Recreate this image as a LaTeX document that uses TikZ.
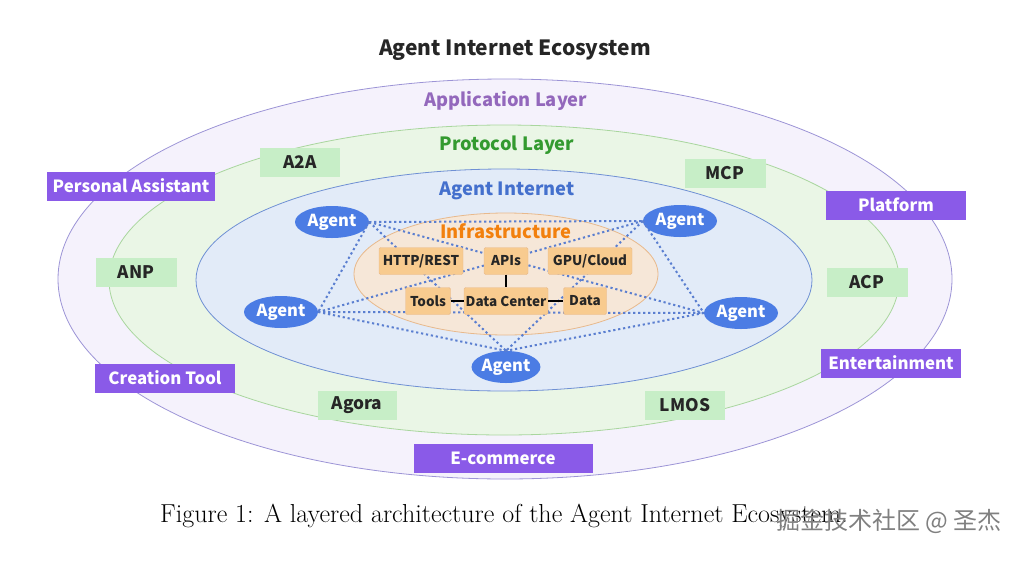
\documentclass[tikz,border=0pt]{standalone}
\usepackage{fontspec}
\newfontfamily\diagfont{Noto Sans CJK SC}
\usetikzlibrary{shapes.geometric, positioning}
\definecolor{appfill}{HTML}{F5F2FC}
\definecolor{appedge}{HTML}{9C94D6}
\definecolor{protofill}{HTML}{EAF6E6}
\definecolor{protoedge}{HTML}{A9D69E}
\definecolor{netfill}{HTML}{E2EBF8}
\definecolor{netedge}{HTML}{6F90D4}
\definecolor{infrafill}{HTML}{F6E7D8}
\definecolor{infraedge}{HTML}{E8B98C}
\definecolor{infrabox}{HTML}{F8CB8F}
\definecolor{agentblue}{HTML}{4B7CE4}
\definecolor{meshblue}{HTML}{5A7ED0}
\definecolor{protobox}{HTML}{C7EEC7}
\definecolor{appbox}{HTML}{8A5AE8}
\tikzset{
    every node/.style={font=\diagfont\bfseries},
    layerlabel/.style={font=\diagfont\bfseries\fontsize{18.3}{19}\selectfont},
    agent/.style={
        ellipse,
        fill=agentblue,
        text=white,
        minimum width=74pt,
        minimum height=32pt,
        inner sep=0pt,
        font=\diagfont\bfseries\fontsize{16.5}{17}\selectfont
    },
    infra/.style={
        rectangle,
        rounded corners=1.5pt,
        draw=infraedge,
        fill=infrabox,
        minimum height=27pt,
        inner sep=0pt,
        text=black!85,
        font=\diagfont\bfseries\fontsize{13.5}{14}\selectfont
    },
    proto/.style={
        rectangle,
        fill=protobox,
        minimum width=81pt,
        minimum height=29pt,
        inner sep=0pt,
        text=black!85,
        font=\diagfont\bfseries\fontsize{17.3}{18}\selectfont
    },
    app/.style={
        rectangle,
        fill=appbox,
        text=white,
        minimum height=29pt,
        inner sep=0pt,
        font=\diagfont\bfseries\fontsize{16.8}{17}\selectfont
    },
    mesh/.style={draw=meshblue, line width=2pt, dash pattern=on 2.2pt off 2.8pt},
    link/.style={draw=black, line width=2pt}
}

\begin{document}
\begin{tikzpicture}[x=1pt,y=-1pt]
	\useasboundingbox (0,0) rectangle (1024,560);
	% layers
	\draw[draw=appedge, fill=appfill, line width=0.8pt] (505,279) ellipse [x radius=447, y radius=200];
	\draw[draw=protoedge, fill=protofill, line width=0.8pt] (504,280) ellipse [x radius=395, y radius=155];
	\draw[draw=netedge, fill=netfill, line width=0.8pt] (504,280) ellipse [x radius=308, y radius=111];
	\draw[draw=infraedge, fill=infrafill, line width=0.8pt] (506,274) ellipse [x radius=152, y radius=61];

	\node[font=\diagfont\bfseries\fontsize{21}{21}\selectfont, text=black!85] at (515,50) (title) {Agent Internet Ecosystem};
	\node[layerlabel, text=appedge!70!violet] at (506,101) (applabel) {Application Layer};
	\node[layerlabel, text=green!50!black!70!protoedge] at (507,145) (protolabel) {Protocol Layer};
	\node[layerlabel, text=agentblue!90!black] at (507,191) (netlabel) {Agent Internet};
	\node[layerlabel, text=orange!80!brown] at (506,231) (infralabel) {Infrastructure};

	% agents
	\node[agent] at (332,222) (a1) {Agent};
	\node[agent] at (680,221) (a2) {Agent};
	\node[agent] at (281,312) (a3) {Agent};
	\node[agent] at (741,313) (a4) {Agent};
	\node[agent, minimum width=68pt] at (506,367) (a5) {Agent};
	\draw[mesh]
	(a1.east) -- (a2.west)
	(a1.east) -- (a3.east)
	(a1.east) -- (a4.west)
	(a1.east) -- (a5.north)
	(a2.west) -- (a3.east)
	(a2.west) -- (a4.west)
	(a2.west) -- (a5.north)
	(a3.east) -- (a4.west)
	(a3.east) -- (a5.north)
	(a4.west) -- (a5.north);

	% infrastructure
	\node[infra, minimum width=84pt] at (421,261) (http) {HTTP/REST};
	\node[infra, minimum width=44pt] at (506,261) (apis) {APIs};
	\node[infra, minimum width=84pt] at (590,261) (gpu) {GPU/Cloud};
	\node[infra, minimum width=45pt] at (428,301) (tools) {Tools};
	\node[infra, minimum width=84pt] at (506,301) (dc) {Data Center};
	\node[infra, minimum width=43pt] at (585,301) (data) {Data};
	\draw[link] (apis) -- (dc) (tools) -- (dc) (dc) -- (data);

	% protocols
	\node[proto, minimum width=80pt] at (300,162) (a2a) {A2A};
	\node[proto] at (725,173) (mcp) {MCP};
	\node[proto] at (136,272) (anp) {ANP};
	\node[proto] at (867,282) (acp) {ACP};
	\node[proto, minimum width=79pt] at (357,405) (agora) {Agora};
	\node[proto, minimum width=80pt] at (685,405) (lmos) {LMOS};

	% applications
	\node[app, minimum width=168pt] at (131,186) (assistant) {Personal Assistant};
	\node[app, minimum width=140pt] at (896,205) (platform) {Platform};
	\node[app, minimum width=140pt] at (165,378) (creation) {Creation Tool};
	\node[app, minimum width=140pt] at (891,363) (entertain) {Entertainment};
	\node[app, minimum width=179pt] at (503,458) (ecommerce) {E-commerce};

	\node[font=\rmfamily\fontsize{26}{26}\selectfont] at (504,516) (caption) {Figure 1: A layered architecture of the Agent Internet Ecosystem.};
	\node[font=\diagfont\fontsize{24}{24}\selectfont, text=black!50] at (889,521) (mark) {掘金技术社区 @ 圣杰};
\end{tikzpicture}
\end{document}
